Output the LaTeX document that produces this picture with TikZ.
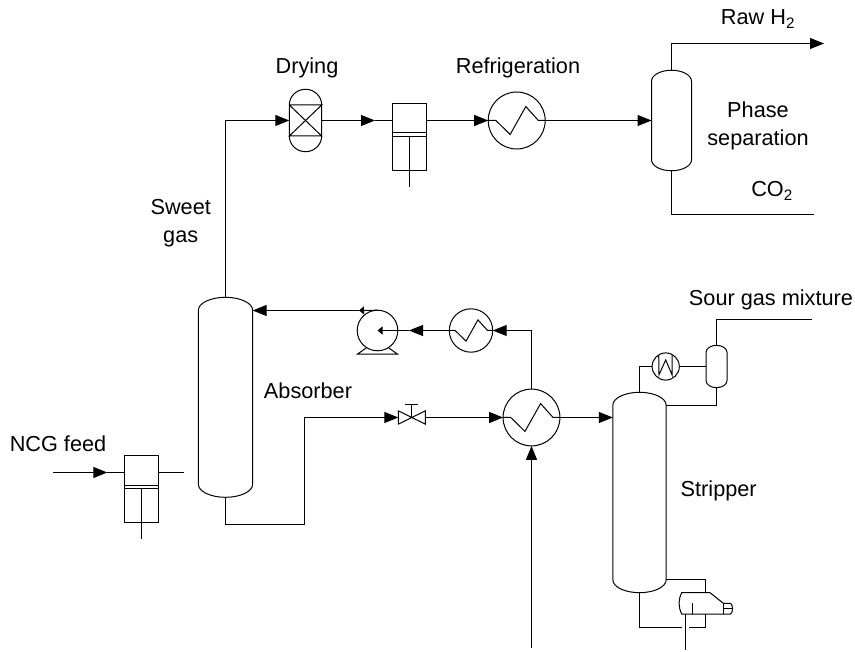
\documentclass[tikz,border=0pt]{standalone}
\usepackage{fontspec}
\setmainfont{Liberation Sans}
\usetikzlibrary{arrows.meta}

\newcommand{\drawvessel}[3]{%
  \draw ([yshift=-#3]#1.north west) arc[start angle=180,end angle=0,x radius=#2,y radius=#3]
    -- ([yshift=#3]#1.south east) arc[start angle=0,end angle=-180,x radius=#2,y radius=#3] -- cycle;}
\newcommand{\drawcomp}[1]{%
  \draw (#1.west) -- (#1.east);
  \draw ([yshift=3.7pt]#1.west) -- ([yshift=3.7pt]#1.east);
  \draw (#1.center) -- ++(0,50);}

\begin{document}
\begin{tikzpicture}[
  x=1pt, y=-1pt,
  line width=1pt,
  equip/.style={inner sep=0pt, outer sep=0pt},
  hx/.style={equip, circle, draw, minimum size=2*#1,
    path picture={\draw[shift={(path picture bounding box.center)},x=#1,y=#1]
      (-1,0) -- (-.73,0) -- (-.23,-.49) -- (.32,.49) -- (.76,0) -- (1,0);}},
  vessel/.style 2 args={equip, minimum width=#1, minimum height=#2},
  comp/.style={equip, draw, minimum width=33.5pt, minimum height=66.7pt},
  label/.style={font=\fontsize{21.7}{28}\selectfont, align=center},
  flow/.style={-{Triangle[length=14pt,width=11pt]}},
  tick/.style={-{Triangle[length=5pt,width=8pt]}}
]
  \useasboundingbox (0,0) rectangle (855,652);

  % top train
  \node[vessel={32.4pt}{62.4pt}] (dry) at (305.5,120.5) {};
  \node[comp] (compb) at (409.5,136.7) {};
  \node[hx=28.5pt] (hxa) at (516.7,120.5) {};
  \node[vessel={40pt}{100.5pt}] (sep) at (671.5,120.5) {};

  % absorber loop
  \node[vessel={54.3pt}{200pt}] (abs) at (225.5,397.3) {};
  \node[comp] (compa) at (141.5,489) {};
  \node[equip, circle, draw, minimum size=40.6pt] (pump) at (377.5,330.5) {};
  \node[hx=21.7pt] (hxc) at (471,330.5) {};
  \node[vessel={27pt}{13.3pt}] (vlv) at (411.8,417.5) {};
  \node[hx=28.4pt] (hxb) at (531.5,417.5) {};

  % stripper
  \node[vessel={53.4pt}{200.4pt}] (strip) at (639.5,492.5) {};
  \node[equip, circle, draw, minimum size=27.2pt] (cond) at (665.7,366.5) {};
  \node[vessel={21pt}{42.3pt}] (drum) at (716.5,366.5) {};
  \node[vessel={53.7pt}{21.3pt}] (reb) at (705.85,603.35) {};

  \node[label] (tdry) at (307,68) {Drying};
  \node[label] (tref) at (518,68) {Refrigeration};
  \node[label] (traw) at (758,19) {Raw H\textsubscript{2}};
  \node[label] (tsep) at (758,125.5) {Phase\\separation};
  \node[label] (tco) at (772,191) {CO\textsubscript{2}};
  \node[label] (tsw) at (180.7,223) {Sweet\\gas};
  \node[label] (tabs) at (308,391) {Absorber};
  \node[label] (tsour) at (771,300) {Sour gas mixture};
  \node[label] (tstr) at (718.7,491) {Stripper};
  \node[label] (tncg) at (58,444) {NCG feed};

  % vessels
  \drawvessel{dry}{16.2pt}{15.7pt}
  \draw ([yshift=-15.7pt]dry.north west) -- ([yshift=-15.7pt]dry.north east)
    -- ([yshift=15.7pt]dry.south west) -- ([yshift=15.7pt]dry.south east)
    -- ([yshift=-15.7pt]dry.north west);
  \drawvessel{sep}{20pt}{11pt}
  \drawvessel{abs}{27.15pt}{13pt}
  \drawvessel{strip}{26.7pt}{13pt}
  \drawvessel{drum}{10.5pt}{7pt}
  \drawcomp{compa}
  \drawcomp{compb}

  % valve
  \draw (vlv.north west) -- (vlv.south east) -- (vlv.north east) -- (vlv.south west) -- cycle;
  \draw (vlv.center) -- ++(0,-13.3) coordinate (vtop);
  \draw ([xshift=-6.5pt]vtop) -- ([xshift=6.5pt]vtop);

  % pump base
  \draw ([shift={(-10.6,17)}]pump.center) -- ([shift={(-20,23.6)}]pump.center)
    -- ([shift={(20,23.6)}]pump.center) -- ([shift={(10.6,17)}]pump.center);

  % small condenser
  \draw ([shift={(-7,-11.5)}]cond.center) -- ([shift={(-6.7,8.3)}]cond.center)
    -- ([shift={(0,-6.6)}]cond.center) -- ([shift={(6.3,8.3)}]cond.center)
    -- ([shift={(6.3,-11.5)}]cond.center);

  % reboiler
  \begin{scope}[shift={(reb.north west)}]
    \draw (2.7,0) -- (31,0) -- (44.3,10.6) -- (51.5,10.6) .. controls (54.2,12) and (54.2,20) .. (51.5,21.3)
      -- (2.7,21.3) .. controls (-.8,14) and (-.8,7) .. (2.7,0) -- cycle;
    \draw (44.3,10.6) -- (44.3,21.3);
    \draw (44.3,15.8) -- (53.5,15.8);
    \draw (13.3,10.6) -- (13.3,21.3);
  \end{scope}

  % top train streams
  \coordinate (ab) at (375,120.5);
  \coordinate (rawend) at (824,43.5);
  \coordinate (coend) at (814,214.5);
  \draw[flow] (abs.north) |- (dry.west);
  \draw[flow] (dry.east) -- (ab);
  \draw (ab) -- (ab -| compb.west);
  \draw[flow] (ab -| compb.east) -- (hxa.west);
  \draw[flow] (hxa.east) -- (hxa.east -| sep.west);
  \draw[flow] (sep.north) |- (rawend);
  \draw (sep.south) |- (coend);

  % absorber streams
  \coordinate (nin) at (53,472.5);
  \coordinate (nmid) at (107.3,472.5);
  \coordinate (nout) at (184.3,472.5);
  \draw[flow] (nin) -- (nmid);
  \draw (nmid) -- (nmid -| compa.west);
  \draw (nmid -| compa.east) -- (nout);
  \coordinate (bend) at (304.5,524.5);
  \draw[flow] (abs.south) |- (bend) |- (vlv.west);
  \draw[flow] (vlv.east) -- (hxb.west);
  \draw[flow] (hxb.north) |- (hxc.east);
  \coordinate (pin) at (409,330.5);
  \draw[flow] (hxc.west) -- (pin);
  \draw[tick] (pin) -- (pump.center);
  \coordinate (pout) at (359,310.5);
  \draw[tick] (pump.north) -- (pout);
  \draw[flow] (pout) -- (pout -| abs.east);
  \coordinate (steam) at (531.5,648);
  \draw[flow] (steam) -- (hxb.south);

  % stripper streams
  \coordinate (sourend) at (811.7,319.5);
  \draw[flow] (hxb.east) -- (hxb.east -| strip.west);
  \draw (strip.north) |- (cond.west);
  \draw (cond.east) -- (drum.west);
  \draw (drum.north) |- (sourend);
  \draw (drum.south) |- ([yshift=-13pt]strip.north east);
  \draw ([yshift=13pt]strip.south east) -| (reb.north);
  \coordinate (rebgap) at (685.7,627.5);
  \draw (strip.south) |- ([xshift=-4pt]rebgap);
  \draw (reb.south) |- ([xshift=3.3pt]rebgap);
  \coordinate (rebrod) at (685.7,650);
  \draw (rebrod |- reb.south) -- (rebrod);
\end{tikzpicture}
\end{document}
